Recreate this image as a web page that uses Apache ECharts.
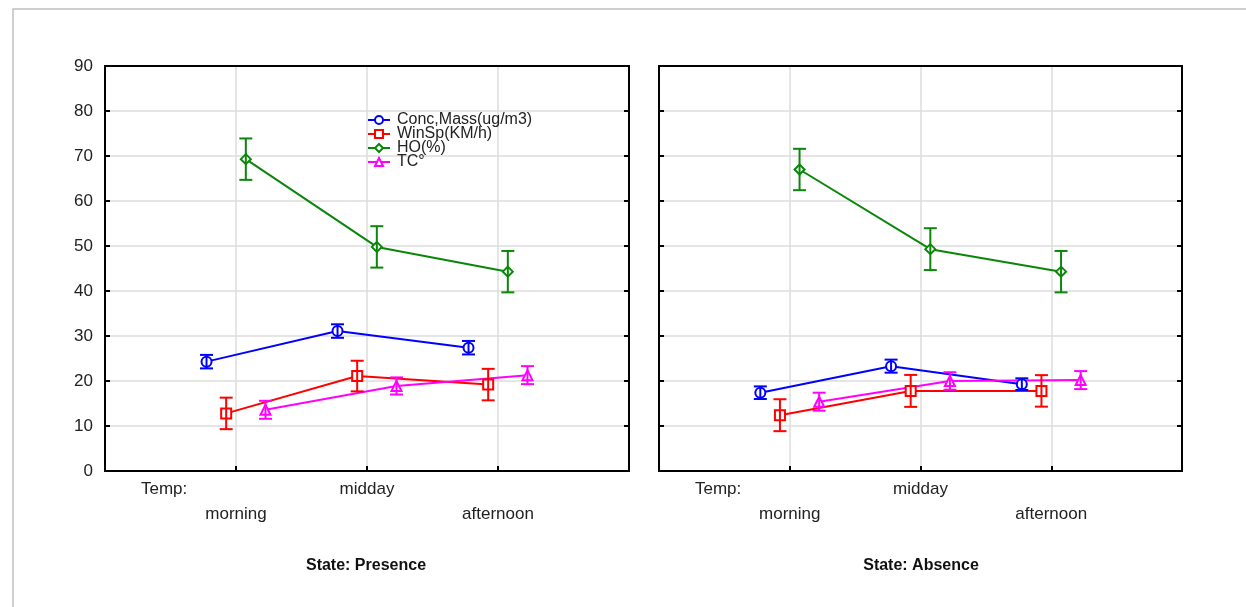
<!DOCTYPE html>
<html>
<head>
<meta charset="utf-8">
<script src="https://cdn.jsdelivr.net/npm/echarts@6/dist/echarts.min.js"></script>
<style>
html,body{margin:0;padding:0;background:#fff;}
#main{width:1246px;height:607px;}
</style>
</head>
<body>
<div id="main"></div>
<script>
// categories (Temp)
var cats = ['morning', 'midday', 'afternoon'];
var names = ['Conc,Mass(ug/m3)', 'WinSp(KM/h)', 'HO(%)', 'TC°'];
var colors = ['#0000ff', '#ff0000', '#0a870a', '#ff00ff'];
var symbols = ['emptyCircle', 'emptyRect', 'emptyDiamond', 'emptyTriangle'];
var dodge = [-0.225, -0.075, 0.075, 0.225];

// State: Presence - means
var concP = [24.3, 31.1, 27.4];
var winP  = [12.8, 21.1, 19.2];
var hoP   = [69.3, 49.8, 44.3];
var tcP   = [13.6, 18.9, 21.3];
// State: Presence - half width of error bars
var concPErr = [1.5, 1.5, 1.5];
var winPErr  = [3.5, 3.4, 3.5];
var hoPErr   = [4.6, 4.6, 4.6];
var tcPErr   = [2.0, 1.9, 2.0];

// State: Absence - means
var concA = [17.4, 23.3, 19.3];
var winA  = [12.4, 17.8, 17.8];
var hoA   = [67.0, 49.3, 44.3];
var tcA   = [15.4, 20.0, 20.2];
// State: Absence - half width of error bars
var concAErr = [1.4, 1.45, 1.3];
var winAErr  = [3.55, 3.55, 3.5];
var hoAErr   = [4.6, 4.65, 4.6];
var tcAErr   = [2.0, 1.95, 2.0];

var yTicks = [0, 10, 20, 30, 40, 50, 60, 70, 80, 90];

var panels = [
  {means: [concP, winP, hoP, tcP], errs: [concPErr, winPErr, hoPErr, tcPErr]},
  {means: [concA, winA, hoA, tcA], errs: [concAErr, winAErr, hoAErr, tcAErr]}
];

var chart = echarts.init(document.getElementById('main'));
var font = 'Liberation Sans, Arial, sans-serif';

function errRender(color) {
  return function (params, api) {
    var x = api.value(0);
    var lo = api.coord([x, api.value(1)]);
    var hi = api.coord([x, api.value(2)]);
    var w = 6.5;
    var st = {stroke: color, lineWidth: 2};
    return {
      type: 'group',
      children: [
        {type: 'line', shape: {x1: lo[0], y1: lo[1], x2: hi[0], y2: hi[1]}, style: st},
        {type: 'line', shape: {x1: lo[0] - w, y1: lo[1], x2: lo[0] + w, y2: lo[1]}, style: st},
        {type: 'line', shape: {x1: hi[0] - w, y1: hi[1], x2: hi[0] + w, y2: hi[1]}, style: st}
      ]
    };
  };
}

var series = [];
panels.forEach(function (p, pi) {
  for (var s = 0; s < 4; s++) {
    var lineData = [], errData = [];
    for (var c = 0; c < cats.length; c++) {
      var x = c + 1 + dodge[s];
      lineData.push([x, p.means[s][c]]);
      errData.push([x, p.means[s][c] - p.errs[s][c], p.means[s][c] + p.errs[s][c]]);
    }
    series.push({
      name: names[s],
      type: 'line',
      xAxisIndex: pi,
      yAxisIndex: pi,
      data: lineData,
      symbol: symbols[s],
      symbolSize: 10,
      color: colors[s],
      lineStyle: {width: 2, color: colors[s]},
      itemStyle: {color: colors[s], borderWidth: 2},
      animation: false,
      z: 3
    });
    series.push({
      name: names[s],
      type: 'custom',
      xAxisIndex: pi,
      yAxisIndex: pi,
      data: errData,
      renderItem: errRender(colors[s]),
      encode: {x: 0, y: [1, 2]},
      animation: false,
      z: 4
    });
  }
});

function xAxisFor(gi) {
  return {
    type: 'value', gridIndex: gi, min: 0, max: 4, interval: 1,
    axisLine: {show: true, onZero: false, lineStyle: {color: '#000', width: 2}},
    axisTick: {show: true, inside: true, length: 5, lineStyle: {color: '#000', width: 2}},
    splitLine: {show: true, lineStyle: {color: '#dcdcdc', width: 1.5}},
    axisLabel: {
      fontFamily: font, fontSize: 17, color: '#222', lineHeight: 25, margin: 6,
      showMinLabel: true, showMaxLabel: true,
      formatter: function (v) {
        if (v === 1) return '\n' + cats[0];
        if (v === 2) return cats[1] + '\n';
        if (v === 3) return '\n' + cats[2];
        return '';
      }
    }
  };
}
function xTopFor(gi) {
  return {
    type: 'value', gridIndex: gi, position: 'top', min: 0, max: 4, interval: 1,
    axisLine: {show: true, onZero: false, lineStyle: {color: '#000', width: 2}},
    axisTick: {show: false}, splitLine: {show: false}, axisLabel: {show: false}
  };
}
function yAxisFor(gi, labels) {
  return {
    type: 'value', gridIndex: gi, min: yTicks[0], max: yTicks[yTicks.length - 1], interval: 10,
    axisLine: {show: true, onZero: false, lineStyle: {color: '#000', width: 2}},
    axisTick: {show: true, inside: true, length: 5, lineStyle: {color: '#000', width: 2}},
    splitLine: {show: true, lineStyle: {color: '#dcdcdc', width: 1.5}},
    axisLabel: {show: labels, fontFamily: font, fontSize: 17, color: '#222', margin: 12}
  };
}
function yRightFor(gi) {
  return {
    type: 'value', gridIndex: gi, position: 'right', min: 0, max: 90, interval: 10,
    axisLine: {show: true, onZero: false, lineStyle: {color: '#000', width: 2}},
    axisTick: {show: true, inside: true, length: 5, lineStyle: {color: '#000', width: 2}},
    splitLine: {show: false},
    axisLabel: {show: false}
  };
}

var option = {
  backgroundColor: '#fff',
  animation: false,
  textStyle: {fontFamily: font},
  graphic: [
    {type: 'rect', shape: {x: 13, y: 9, width: 1240, height: 620}, style: {fill: 'none', stroke: '#c0c0c0', lineWidth: 1.5}, silent: true},
    {type: 'text', left: 141, top: 481, style: {text: 'Temp:', font: '17px ' + font, fill: '#222'}},
    {type: 'text', left: 695, top: 481, style: {text: 'Temp:', font: '17px ' + font, fill: '#222'}},
    {type: 'text', x: 366, y: 566, style: {text: 'State: Presence', font: 'bold 16px ' + font, fill: '#111', textAlign: 'center', textVerticalAlign: 'middle'}},
    {type: 'text', x: 921, y: 566, style: {text: 'State: Absence', font: 'bold 16px ' + font, fill: '#111', textAlign: 'center', textVerticalAlign: 'middle'}}
  ],
  legend: {
    data: names,
    orient: 'vertical',
    left: 367,
    top: 112,
    itemWidth: 22,
    itemHeight: 10,
    itemGap: -2,
    textStyle: {fontFamily: font, fontSize: 16, lineHeight: 14, color: '#222', padding: [0, 0, 0, 2]},
    selectedMode: false,
    padding: 0
  },
  grid: [
    {left: 105, top: 66, width: 524, height: 405, show: true, borderColor: '#000', borderWidth: 2},
    {left: 659, top: 66, width: 523, height: 405, show: true, borderColor: '#000', borderWidth: 2}
  ],
  xAxis: [xAxisFor(0), xAxisFor(1), xTopFor(0), xTopFor(1)],
  yAxis: [yAxisFor(0, true), yAxisFor(1, false), yRightFor(0), yRightFor(1)],
  series: series
};
chart.setOption(option);
</script>
</body>
</html>
